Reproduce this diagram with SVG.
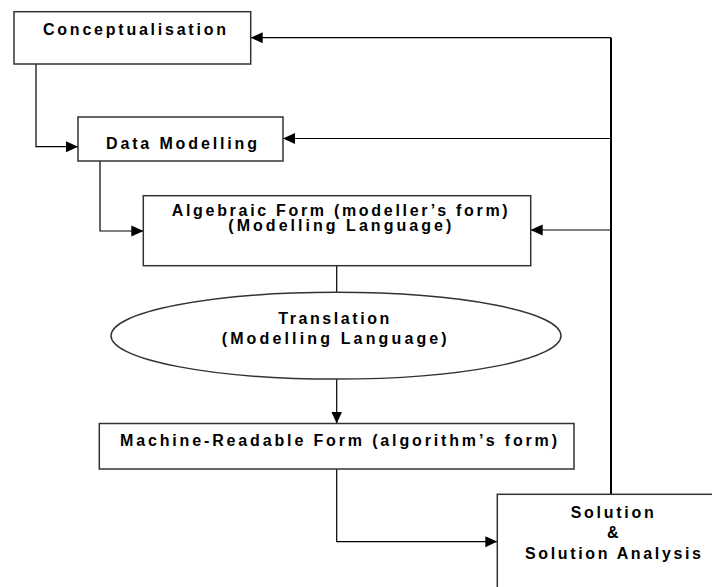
<svg xmlns="http://www.w3.org/2000/svg" width="712" height="587" viewBox="0 0 712 587">
<style>
.box{fill:#fff;stroke:#333;stroke-width:1.5}
.ln{fill:none;stroke:#000;stroke-width:1.2}
.thick{fill:none;stroke:#000;stroke-width:2}
.t{font-family:"Liberation Sans",Arial,sans-serif;font-weight:bold;font-size:16px;fill:#000}
</style>
<defs>
<marker id="ah" markerUnits="userSpaceOnUse" markerWidth="12" markerHeight="12" viewBox="0 0 12 12" refX="12" refY="6" orient="auto">
<path d="M0,0.5 L12,6 L0,11.5 Z" fill="#000"/>
</marker>
</defs>
<rect width="712" height="587" fill="#fff"/>
<g id="connectors">
<path class="ln" d="M36,64 V146.7 H78" marker-end="url(#ah)"/>
<path class="ln" d="M100,161 V231 H143.3" marker-end="url(#ah)"/>
<path class="ln" d="M336.7,265.7 V292.3"/>
<path class="ln" d="M336.7,379 V423.5" marker-end="url(#ah)"/>
<path class="ln" d="M336.7,469 V541.7 H497.3" marker-end="url(#ah)"/>
<path class="thick" d="M611,494.3 V37.7"/>
<path class="ln" d="M611,37.7 H250.7" marker-end="url(#ah)"/>
<path class="ln" d="M611,138.5 H283" marker-end="url(#ah)"/>
<path class="ln" d="M611,230 H530.7" marker-end="url(#ah)"/>
</g>
<g id="conceptualisation">
<rect class="box" x="14" y="11.7" width="236.7" height="52.3"/>
<text class="t" x="43" y="35" textLength="183" lengthAdjust="spacing">Conceptualisation</text>
</g>
<g id="data-modelling">
<rect class="box" x="78" y="117" width="205" height="44"/>
<text class="t" x="106" y="149" textLength="151" lengthAdjust="spacing">Data Modelling</text>
</g>
<g id="algebraic-form">
<rect class="box" x="143.3" y="195.7" width="387.4" height="70"/>
<text class="t" x="171.7" y="215.5" textLength="336" lengthAdjust="spacing">Algebraic Form (modeller’s form)</text>
<text class="t" x="228.3" y="231" textLength="223" lengthAdjust="spacing">(Modelling Language)</text>
</g>
<g id="translation">
<ellipse class="box" cx="336" cy="335.7" rx="225" ry="43.4"/>
<text class="t" x="278.3" y="324" textLength="111" lengthAdjust="spacing">Translation</text>
<text class="t" x="221.7" y="343.5" textLength="225" lengthAdjust="spacing">(Modelling Language)</text>
</g>
<g id="machine-readable-form">
<rect class="box" x="99.3" y="423.5" width="474.7" height="45.5"/>
<text class="t" x="120" y="446" textLength="437" lengthAdjust="spacing">Machine-Readable Form (algorithm’s form)</text>
</g>
<g id="solution">
<rect class="box" x="497.3" y="494.3" width="240" height="110"/>
<text class="t" x="570.7" y="518" textLength="83" lengthAdjust="spacing">Solution</text>
<text class="t" x="607" y="538" textLength="11" lengthAdjust="spacing">&amp;</text>
<text class="t" x="525" y="559" textLength="176" lengthAdjust="spacing">Solution Analysis</text>
</g>
</svg>
